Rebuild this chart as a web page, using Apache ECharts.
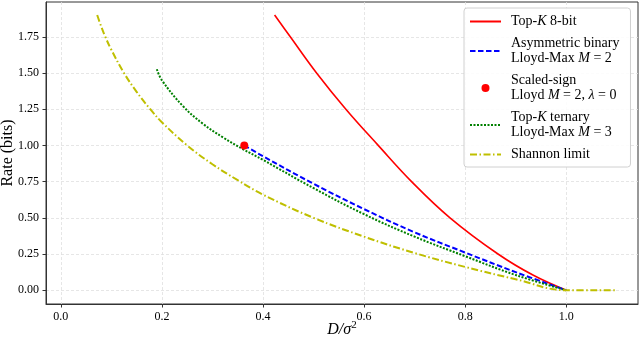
<!DOCTYPE html>
<html>
<head>
<meta charset="utf-8">
<script src="https://cdn.jsdelivr.net/npm/echarts@6/dist/echarts.min.js"></script>
<style>
  html, body { margin: 0; padding: 0; background: #fff; }
  #chart { width: 640px; height: 337px; }
</style>
</head>
<body>
<div id="chart"></div>
<script>
// values (D / sigma^2 vs rate in bits)
const top8D = [0.423, 0.454, 0.506, 0.564, 0.628, 0.694, 0.770, 0.865, 0.935, 1.0]
const top8R = [1.9, 1.75, 1.5, 1.25, 1.0, 0.75, 0.5, 0.25, 0.103, 0]

const asymD = [0.363, 0.4, 0.5, 0.6, 0.7, 0.8, 0.9, 1.0]
const asymR = [1.0, 0.925, 0.735, 0.56, 0.40, 0.26, 0.125, 0]

const signD = [0.363]
const signR = [1.0]

const ternD = [0.19, 0.2, 0.242, 0.281, 0.321, 0.36, 0.4, 0.5, 0.6, 0.7, 0.8, 0.9, 1.0]
const ternR = [1.526, 1.45, 1.27, 1.15, 1.055, 0.975, 0.9, 0.705, 0.525, 0.37, 0.235, 0.105, 0]

const shD = [0.072, 0.08, 0.088, 0.1, 0.125, 0.15, 0.177, 0.2, 0.25, 0.3, 0.35, 0.4, 0.5, 0.6, 0.7, 0.8, 0.9, 1.0, 1.1]
const shR = [1.9, 1.82, 1.75, 1.66, 1.5, 1.37, 1.25, 1.16, 1.0, 0.87, 0.76, 0.66, 0.5, 0.37, 0.257, 0.161, 0.076, 0, 0]

const xTicks = [0, 0.2, 0.4, 0.6, 0.8, 1.0]
const yTicks = [0, 0.25, 0.5, 0.75, 1.0, 1.25, 1.5, 1.75]

const legendLabels = {
  top8: 'Top-{i|K} 8-bit',
  asym: 'Asymmetric binary\nLloyd-Max {i|M} = 2',
  sign: 'Scaled-sign\nLloyd {i|M} = 2, {i|λ} = 0',
  tern: 'Top-{i|K} ternary\nLloyd-Max {i|M} = 3',
  shannon: 'Shannon limit'
}

const pairs = (xs, ys) => xs.map((x, i) => [x, ys[i]])
const font = 'Liberation Serif'
const noMarker = { opacity: 0, color: 'rgba(0,0,0,0)', borderWidth: 0 }

const chart = echarts.init(document.getElementById('chart'))

chart.setOption({
  animation: false,
  textStyle: { fontFamily: font },
  grid: {
    left: 46,
    right: 2,
    top: 2,
    bottom: 33,
    outerBoundsMode: 'none',
    containLabel: false,
    show: true,
    borderColor: '#333',
    borderWidth: 1
  },
  legend: {
    orient: 'vertical',
    left: 464,
    top: 8,
    padding: [6, 11, 5, 5],
    itemGap: 7,
    itemWidth: 31,
    itemHeight: 8,
    backgroundColor: 'rgba(255,255,255,0.85)',
    borderColor: '#d0d0d0',
    borderWidth: 1,
    borderRadius: 3,
    formatter: name => legendLabels[name],
    textStyle: {
      fontFamily: font,
      fontSize: 14,
      lineHeight: 15,
      color: '#000',
      padding: [0, 0, 0, 5],
      rich: {
        i: { fontFamily: font, fontSize: 14, lineHeight: 15, fontStyle: 'italic', color: '#000' }
      }
    },
    data: [
      { name: 'top8', itemStyle: noMarker },
      { name: 'asym', itemStyle: noMarker },
      { name: 'sign' },
      { name: 'tern', itemStyle: noMarker },
      { name: 'shannon', itemStyle: noMarker }
    ]
  },
  xAxis: {
    type: 'value',
    min: -0.0293,
    max: 1.142,
    name: '{i|D/σ}{s|2}',
    nameLocation: 'middle',
    nameGap: 16,
    nameMoveOverlap: false,
    nameTextStyle: {
      fontFamily: font,
      fontSize: 16,
      color: '#000',
      rich: {
        i: { fontFamily: font, fontSize: 16, fontStyle: 'italic', color: '#000' },
        s: { fontFamily: font, fontSize: 11, color: '#000', padding: [0, 0, 8, 0] }
      }
    },
    axisLine: { show: true, onZero: false, lineStyle: { color: '#333', width: 1 } },
    axisTick: { show: true, length: 3.5, customValues: xTicks, lineStyle: { color: '#333' } },
    axisLabel: {
      customValues: xTicks,
      margin: 7,
      fontFamily: font,
      fontSize: 12,
      color: '#000',
      formatter: v => v.toFixed(1)
    },
    splitLine: { show: true, lineStyle: { color: '#e0e0e0', type: [3, 2], width: 0.8 } }
  },
  yAxis: {
    type: 'value',
    min: -0.095,
    max: 1.99,
    name: 'Rate (bits)',
    nameLocation: 'middle',
    nameGap: 30,
    nameMoveOverlap: false,
    nameTextStyle: { fontFamily: font, fontSize: 16, color: '#000' },
    axisLine: { show: true, onZero: false, lineStyle: { color: '#333', width: 1 } },
    axisTick: { show: true, length: 3.5, customValues: yTicks, lineStyle: { color: '#333' } },
    axisLabel: {
      customValues: yTicks,
      margin: 7,
      fontFamily: font,
      fontSize: 12,
      color: '#000',
      formatter: v => v.toFixed(2)
    },
    splitLine: { show: true, lineStyle: { color: '#e0e0e0', type: [3, 2], width: 0.8 } }
  },
  series: [
    {
      name: 'top8',
      type: 'line',
      data: pairs(top8D, top8R),
      symbol: 'none',
      smooth: 0.4,
      lineStyle: { color: '#ff0000', width: 1.6 },
      itemStyle: { color: '#ff0000' },
      z: 3
    },
    {
      name: 'asym',
      type: 'line',
      data: pairs(asymD, asymR),
      symbol: 'none',
      smooth: 0.4,
      lineStyle: { color: '#0000ff', width: 2, type: [5.5, 2.5] },
      itemStyle: { color: '#0000ff' },
      z: 3
    },
    {
      name: 'sign',
      type: 'scatter',
      data: pairs(signD, signR),
      symbol: 'circle',
      symbolSize: 8,
      itemStyle: { color: '#ff0000', opacity: 1 },
      z: 5
    },
    {
      name: 'tern',
      type: 'line',
      data: pairs(ternD, ternR),
      symbol: 'none',
      smooth: 0.4,
      lineStyle: { color: '#008000', width: 2, type: [2, 1.5] },
      itemStyle: { color: '#008000' },
      z: 3
    },
    {
      name: 'shannon',
      type: 'line',
      data: pairs(shD, shR),
      symbol: 'none',
      smooth: 0.4,
      lineStyle: { color: '#bfbf00', width: 2, type: [7, 2.5, 1.5, 2.5] },
      itemStyle: { color: '#bfbf00' },
      z: 3
    }
  ]
})
</script>
</body>
</html>
